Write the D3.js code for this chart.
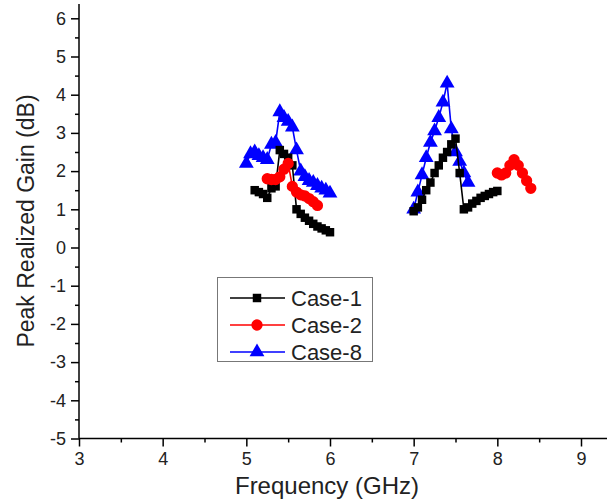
<!DOCTYPE html>
<html>
<head>
<meta charset="utf-8">
<script src="https://cdn.jsdelivr.net/npm/d3@7/dist/d3.min.js"></script>
<style>
  html, body { margin: 0; padding: 0; background: #fff; }
  svg { display: block; font-family: "Liberation Sans", Arial, sans-serif; }
</style>
</head>
<body>
<svg id="chart" width="608" height="502"></svg>
<script>
// Peak realized gain versus frequency for three antenna cases, two bands each.
const case1FreqLow  = [5.10, 5.15, 5.20, 5.25, 5.30, 5.35, 5.40, 5.45, 5.50, 5.55, 5.60, 5.65, 5.70, 5.75, 5.80, 5.85, 5.90, 5.95, 6.00];
const case1GainLow  = [1.50, 1.45, 1.40, 1.30, 1.55, 1.60, 2.55, 2.45, 2.35, 2.15, 1.00, 0.88, 0.78, 0.70, 0.62, 0.55, 0.50, 0.45, 0.40];
const case1FreqHigh = [7.00, 7.05, 7.10, 7.15, 7.20, 7.25, 7.30, 7.35, 7.40, 7.45, 7.50, 7.55, 7.60, 7.65, 7.70, 7.75, 7.80, 7.85, 7.90, 7.95, 8.00];
const case1GainHigh = [0.95, 1.05, 1.25, 1.50, 1.70, 1.95, 2.15, 2.35, 2.50, 2.70, 2.85, 1.95, 1.00, 1.05, 1.15, 1.22, 1.30, 1.35, 1.40, 1.45, 1.48];

const case2FreqLow  = [5.25, 5.30, 5.35, 5.40, 5.45, 5.50, 5.55, 5.60, 5.65, 5.70, 5.75, 5.80, 5.85];
const case2GainLow  = [1.80, 1.78, 1.78, 1.85, 2.05, 2.20, 1.60, 1.45, 1.38, 1.35, 1.28, 1.20, 1.10];
const case2FreqHigh = [8.00, 8.05, 8.10, 8.15, 8.20, 8.25, 8.30, 8.35, 8.40];
const case2GainHigh = [1.95, 1.90, 1.95, 2.15, 2.30, 2.15, 1.95, 1.75, 1.55];

const case8FreqLow  = [5.00, 5.05, 5.10, 5.15, 5.20, 5.25, 5.30, 5.35, 5.40, 5.45, 5.50, 5.55, 5.60, 5.65, 5.70, 5.75, 5.80, 5.85, 5.90, 5.95, 6.00];
const case8GainLow  = [2.20, 2.45, 2.50, 2.40, 2.35, 2.30, 2.70, 2.75, 3.55, 3.40, 3.30, 3.15, 2.55, 2.00, 1.85, 1.75, 1.70, 1.62, 1.55, 1.50, 1.42];
const case8FreqHigh = [7.00, 7.05, 7.10, 7.15, 7.20, 7.25, 7.30, 7.35, 7.40, 7.45, 7.50, 7.55, 7.60, 7.65];
const case8GainHigh = [1.00, 1.45, 1.90, 2.35, 2.75, 3.05, 3.40, 3.80, 4.30, 3.10, 2.50, 2.25, 1.95, 1.70];

const seriesNames  = ["Case-1", "Case-2", "Case-8"];
const seriesColors = ["#000000", "#ff0000", "#0000ff"];
const seriesShapes = [d3.symbolSquare, d3.symbolCircle, d3.symbolTriangle];

const xTicks = [3, 4, 5, 6, 7, 8, 9];
const yTicks = [-5, -4, -3, -2, -1, 0, 1, 2, 3, 4, 5, 6];

const xTitle = "Frequency (GHz)";
const yTitle = "Peak Realized Gain (dB)";

const svg = d3.select("#chart");
const left = 79, bottom = 438.5;

const x = d3.scaleLinear().domain([3, 9]).range([left, 581]);
const y = d3.scaleLinear().domain([-5, 6]).range([bottom, 18.3]);

// axes
const xAxisG = svg.append("g").attr("transform", `translate(0,${bottom})`);
xAxisG.call(d3.axisBottom(x).tickValues(xTicks).tickFormat(d3.format("d")).tickSizeOuter(0).tickSize(8).tickPadding(6));
const xMinor = svg.append("g").attr("transform", `translate(0,${bottom})`);
xMinor.call(d3.axisBottom(x).tickValues(xTicks.slice(0, -1).map(v => v + 0.5)).tickFormat("").tickSizeOuter(0).tickSize(4));
xMinor.select(".domain").remove();

const yAxisG = svg.append("g").attr("transform", `translate(${left},0)`);
yAxisG.call(d3.axisLeft(y).tickValues(yTicks).tickFormat(d => String(d)).tickSizeOuter(0).tickSize(8).tickPadding(5));
const yMinor = svg.append("g").attr("transform", `translate(${left},0)`);
yMinor.call(d3.axisLeft(y).tickValues(yTicks.slice(0, -1).map(v => v + 0.5)).tickFormat("").tickSizeOuter(0).tickSize(4));
yMinor.select(".domain").remove();

// extend axis lines past the last labelled tick
xAxisG.select(".domain").attr("d", `M${left},0H607`);
yAxisG.select(".domain").attr("d", `M0,${bottom}V4`);

svg.selectAll(".domain, .tick line").attr("stroke", "#000").attr("stroke-width", 1.5);
svg.selectAll(".tick text")
  .attr("font-family", "Liberation Sans, Arial, sans-serif")
  .attr("font-size", 18)
  .attr("fill", "#222");

svg.append("text")
  .attr("x", 327)
  .attr("y", 494)
  .attr("text-anchor", "middle")
  .attr("font-size", 24)
  .attr("fill", "#222")
  .text(xTitle);

svg.append("text")
  .attr("transform", "translate(34,221) rotate(-90)")
  .attr("text-anchor", "middle")
  .attr("font-size", 23)
  .attr("fill", "#222")
  .text(yTitle);

// series
const line = d3.line().x(d => x(d[0])).y(d => y(d[1]));
const zip = (fs, gs) => fs.map((f, i) => [f, gs[i]]);

const seriesData = [
  [zip(case1FreqLow, case1GainLow), zip(case1FreqHigh, case1GainHigh)],
  [zip(case2FreqLow, case2GainLow), zip(case2FreqHigh, case2GainHigh)],
  [zip(case8FreqLow, case8GainLow), zip(case8FreqHigh, case8GainHigh)]
];
const symbolSizes = [72, 100, 95];

function symbolPath(i) {
  return d3.symbol().type(seriesShapes[i]).size(symbolSizes[i])();
}

// blue underneath, then black, then red on top
const drawOrder = [2, 0, 1];
drawOrder.forEach(i => {
  const g = svg.append("g");
  seriesData[i].forEach(seg => {
    g.append("path")
      .attr("d", line(seg))
      .attr("fill", "none")
      .attr("stroke", seriesColors[i])
      .attr("stroke-width", 1.6);
  });
  seriesData[i].forEach(seg => {
    g.selectAll(null).data(seg).enter().append("path")
      .attr("d", symbolPath(i))
      .attr("transform", d => `translate(${x(d[0])},${y(d[1])})`)
      .attr("fill", seriesColors[i]);
  });
});

// legend
const legend = svg.append("g");
legend.append("rect")
  .attr("x", 217.5).attr("y", 277.5)
  .attr("width", 155).attr("height", 84)
  .attr("fill", "#fff").attr("stroke", "#777").attr("stroke-width", 1);
seriesNames.forEach((name, i) => {
  const ry = 298 + i * 27;
  legend.append("line")
    .attr("x1", 230).attr("x2", 285).attr("y1", ry).attr("y2", ry)
    .attr("stroke", seriesColors[i]).attr("stroke-width", 1.6);
  legend.append("path")
    .attr("d", symbolPath(i))
    .attr("transform", `translate(257,${ry})`)
    .attr("fill", seriesColors[i]);
  legend.append("text")
    .attr("x", 291).attr("y", ry + 8)
    .attr("font-size", 22)
    .attr("fill", "#222")
    .text(name);
});
</script>
</body>
</html>
